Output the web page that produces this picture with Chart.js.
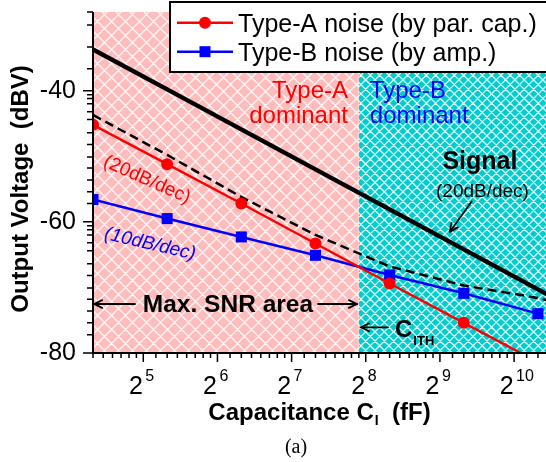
<!DOCTYPE html>
<html><head><meta charset="utf-8">
<script src="https://cdn.jsdelivr.net/npm/chart.js@4.4.0/dist/chart.umd.min.js"></script>
<style>html,body{margin:0;padding:0;background:#fff;overflow:hidden}</style>
</head><body>
<canvas id="c" width="546" height="462"></canvas>
<script>
// ---- data ----
const caps       = [20, 40, 80, 160, 320, 640, 1280, 2560];          // fF
const typeA      = [-45.2, -51.2, -57.2, -63.3, -69.4, -75.4, -81.4, null];
const typeB      = [-56.6, -59.5, -62.3, -65.1, -68.1, -70.9, -74.0, null];
const totalNoise = [-43.7, -49.8, -56.2, -62.0, -66.8, -69.7, -71.6, -74.5];
const signal     = [-33.7, -39.8, -45.9, -52.0, -58.1, -64.2, -70.3, -76.4];
const xTickExps  = [5, 6, 7, 8, 9, 10];
const yTickLabels = [-40, -60, -80];
const cIth = 240;
const xMin = 20, xMax = 1380, yMin = -80, yMax = -28;
const legendLabels = ['Type-A noise (by par. cap.)', 'Type-B noise (by amp.)'];

const pts = arr => caps.map((c, i) => ({x: c, y: arr[i]})).filter(p => p.y !== null);

function hatch(ctx, x0, y0, w, h, bg, s) {
  ctx.save();
  ctx.beginPath(); ctx.rect(x0, y0, w, h); ctx.clip();
  ctx.fillStyle = bg; ctx.fillRect(x0, y0, w, h);
  ctx.strokeStyle = 'rgba(255,255,255,0.85)'; ctx.lineWidth = 1.3;
  ctx.beginPath();
  for (let k = -h - s; k < w + h + s; k += s) {
    ctx.moveTo(x0 + k, y0); ctx.lineTo(x0 + k + h, y0 + h);
    ctx.moveTo(x0 + k, y0 + h); ctx.lineTo(x0 + k + h, y0);
  }
  ctx.stroke();
  ctx.restore();
}
function txt(ctx, s, x, y, font, color, align, base) {
  ctx.font = font; ctx.fillStyle = color || '#000';
  ctx.textAlign = align || 'left'; ctx.textBaseline = base || 'alphabetic';
  ctx.fillText(s, x, y);
}
function arrow(ctx, x1, y1, x2, y2, lw, head) {
  ctx.save();
  ctx.strokeStyle = '#000'; ctx.lineWidth = lw; ctx.lineCap = 'round'; ctx.lineJoin = 'round';
  const ang = Math.atan2(y2 - y1, x2 - x1);
  ctx.beginPath(); ctx.moveTo(x1, y1); ctx.lineTo(x2, y2); ctx.stroke();
  ctx.beginPath();
  ctx.moveTo(x2 - head * Math.cos(ang - 0.45), y2 - head * Math.sin(ang - 0.45));
  ctx.lineTo(x2, y2);
  ctx.lineTo(x2 - head * Math.cos(ang + 0.45), y2 - head * Math.sin(ang + 0.45));
  ctx.stroke();
  ctx.restore();
}
const SANS = '"Liberation Sans", Arial, sans-serif';

const deco = {
  id: 'deco',
  beforeDatasetsDraw(chart) {
    const {ctx, chartArea: a, scales: {x}} = chart;
    const xb = x.getPixelForValue(cIth);
    hatch(ctx, a.left, a.top, xb - a.left, a.bottom - a.top, '#FFBCBC', 14);
    hatch(ctx, xb, a.top, a.right - xb, a.bottom - a.top, '#00CDCD', 9.33);
  },
  afterDatasetsDraw(chart) {
    const {ctx, chartArea: a, scales: {x, y}} = chart;
    const X = v => x.getPixelForValue(v), Y = v => y.getPixelForValue(v);
    ctx.save();
    // axis lines
    ctx.strokeStyle = '#000'; ctx.lineWidth = 2;
    ctx.beginPath(); ctx.moveTo(a.left, a.top); ctx.lineTo(a.left, a.bottom); ctx.lineTo(a.right, a.bottom); ctx.stroke();
    // x ticks
    ctx.lineWidth = 1.5;
    ctx.beginPath();
    for (let k = 4; k <= 10; k++) {
      const base = Math.pow(2, k);
      for (let j = 0; j < 8; j++) {
        const v = base * (1 + j / 8);
        if (v < xMin - 0.01 || v > xMax) continue;
        const px = X(v), len = j === 0 ? 9 : 5;
        ctx.moveTo(px, a.bottom); ctx.lineTo(px, a.bottom + len);
      }
    }
    // y ticks
    const yMinor = [-28, -30, -33.33, -36.67];
    const offs = [0.6, 1.2, 2.0, 3.2, 4.4, 6.4, 8.2, 10.1, 11.8, 13.6, 15.4, 17.2];
    [-40, -60].forEach(m => offs.forEach(o => yMinor.push(m - o)));
    yMinor.forEach(v => { const py = Y(v); ctx.moveTo(a.left, py); ctx.lineTo(a.left - 6, py); });
    yTickLabels.forEach(v => { const py = Y(v); ctx.moveTo(a.left, py); ctx.lineTo(a.left - 10, py); });
    ctx.stroke();
    // y labels
    yTickLabels.forEach(v => txt(ctx, String(v), 76, Y(v), '25px ' + SANS, '#000', 'right', 'middle'));
    // x labels
    xTickExps.forEach(e => {
      const px = X(Math.pow(2, e));
      txt(ctx, '2', px - 0.5, 394, '25px ' + SANS, '#000', 'right');
      txt(ctx, String(e), px + 2, 381, '16px ' + SANS, '#000', 'left');
    });
    // axis titles
    ctx.save();
    ctx.translate(28, 189); ctx.rotate(-Math.PI / 2);
    txt(ctx, 'Output Voltage  (dBV)', 0, 0, 'bold 24px ' + SANS, '#000', 'center');
    ctx.restore();
    {
      const f = 'bold 24px ' + SANS, fs = 'bold 14px ' + SANS;
      ctx.font = f; const w1 = ctx.measureText('Capacitance C').width, w3 = ctx.measureText('  (fF)').width;
      ctx.font = fs; const w2 = ctx.measureText('I').width + 1;
      const x0 = (a.left + a.right) / 2 - (w1 + w2 + w3) / 2;
      txt(ctx, 'Capacitance C', x0, 420, f, '#000', 'left');
      txt(ctx, 'I', x0 + w1 + 1, 425, fs, '#000', 'left');
      txt(ctx, '  (fF)', x0 + w1 + w2, 420, f, '#000', 'left');
    }
    txt(ctx, '(a)', 296, 453, '20px "Liberation Serif", "Times New Roman", serif', '#000', 'center');

    // region annotations
    const F = '24px ' + SANS;
    txt(ctx, 'Type-A', X(216.8), Y(-41.1), F, '#FF0000', 'right');
    txt(ctx, 'dominant', X(216.8), Y(-44.9), F, '#FF0000', 'right');
    txt(ctx, 'Type-B', X(266), Y(-41.1), F, '#0000FF', 'left');
    txt(ctx, 'dominant', X(266), Y(-44.9), F, '#0000FF', 'left');
    txt(ctx, 'Signal', X(744), Y(-52.0), 'bold 25px ' + SANS, '#000', 'center');
    txt(ctx, '(20dB/dec)', X(762), Y(-56.2), '19px ' + SANS, '#000', 'center');
    arrow(ctx, X(689), Y(-56.9), X(562), Y(-61.5), 1.8, 9);
    // slope labels
    ctx.save(); ctx.translate(X(33.1), Y(-53.6)); ctx.rotate(24 * Math.PI / 180);
    txt(ctx, '(20dB/dec)', 0, 0, '19px ' + SANS, '#FF0000', 'center', 'middle'); ctx.restore();
    ctx.save(); ctx.translate(X(34.1), Y(-63.4)); ctx.rotate(13 * Math.PI / 180);
    txt(ctx, '(10dB/dec)', 0, 0, 'italic 19px ' + SANS, '#0000FF', 'center', 'middle'); ctx.restore();
    // Max SNR area
    txt(ctx, 'Max. SNR area', X(70.6), Y(-73.7), 'bold 24.5px ' + SANS, '#000', 'center');
    arrow(ctx, X(29.6), Y(-72.53), X(20.2), Y(-72.53), 1.8, 9);
    arrow(ctx, X(163.8), Y(-72.53), X(235.9), Y(-72.53), 1.8, 9);
    arrow(ctx, X(315), Y(-76.08), X(244.8), Y(-76.08), 1.8, 9);
    txt(ctx, 'C', X(336.5), Y(-77.56), 'bold 24px ' + SANS, '#000', 'left');
    ctx.font = 'bold 24px ' + SANS;
    const cw = ctx.measureText('C').width;
    txt(ctx, 'ITH', X(336.5) + cw + 1, Y(-78.8), 'bold 13px ' + SANS, '#000', 'left');

    // legend
    ctx.fillStyle = '#fff'; ctx.fillRect(170, 2, 380, 70);
    ctx.strokeStyle = '#000'; ctx.lineWidth = 2; ctx.strokeRect(170, 2, 380, 70);
    const ly = [22.7, 51.7], lc = ['#FF0000', '#0000FF'];
    ly.forEach((yy, i) => {
      ctx.strokeStyle = lc[i]; ctx.lineWidth = 2.5;
      ctx.beginPath(); ctx.moveTo(177, yy); ctx.lineTo(233, yy); ctx.stroke();
      ctx.fillStyle = lc[i];
      if (i === 0) { ctx.beginPath(); ctx.arc(205, yy, 6, 0, 2 * Math.PI); ctx.fill(); }
      else ctx.fillRect(199.5, yy - 5.5, 11, 11);
      txt(ctx, legendLabels[i], 238, yy + 9, '25px ' + SANS, '#000', 'left');
    });
    ctx.restore();
  }
};

new Chart(document.getElementById('c'), {
  type: 'line',
  data: {
    datasets: [
      {label: 'Type-A', data: pts(typeA), borderColor: '#FF0000', backgroundColor: '#FF0000', borderWidth: 2.5,
       pointRadius: 6, pointStyle: 'circle', pointBorderWidth: 0, clip: 0},
      {label: 'Type-B', data: pts(typeB), borderColor: '#0000FF', backgroundColor: '#0000FF', borderWidth: 2.5,
       pointRadius: 7.8, pointStyle: 'rect', pointBorderWidth: 0, clip: 0},
      {label: 'Total', data: pts(totalNoise), borderColor: '#000', borderWidth: 2.5, borderDash: [9, 5],
       pointRadius: 0, clip: 0},
      {label: 'Signal', data: pts(signal), borderColor: '#000', borderWidth: 4.5, pointRadius: 0, clip: 0}
    ]
  },
  options: {
    responsive: false, animation: false, devicePixelRatio: 1,
    layout: {autoPadding: false, padding: {top: 12, left: 0, right: 0, bottom: 0}},
    plugins: {legend: {display: false}, tooltip: {enabled: false}},
    elements: {line: {tension: 0}},
    scales: {
      x: {type: 'logarithmic', min: xMin, max: xMax, grid: {display: false}, border: {display: false},
          ticks: {display: false}, afterFit: s => { s.height = 109; }},
      y: {type: 'linear', min: yMin, max: yMax, grid: {display: false}, border: {display: false},
          ticks: {display: false}, afterFit: s => { s.width = 93; }}
    }
  },
  plugins: [deco]
});
</script>
</body></html>
